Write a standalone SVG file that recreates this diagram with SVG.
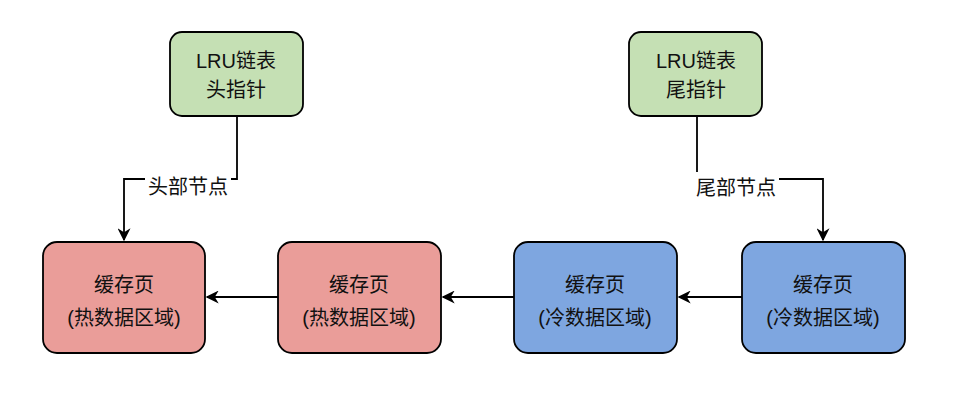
<svg xmlns="http://www.w3.org/2000/svg" width="955" height="400" viewBox="0 0 955 400">
<defs>
<style>
.box{stroke:#000;stroke-width:1.8}
.g{fill:#c5e0b4}
.p{fill:#ea9d99}
.b{fill:#7ea6e0}
text{font-family:"Liberation Sans","Noto Sans CJK SC",sans-serif;font-size:20px;fill:#111;text-anchor:middle;dominant-baseline:central}
.lbl{font-size:20px}
.c{fill:none;stroke:#000;stroke-width:1.8}
</style>
<marker id="ah" viewBox="0 0 10 10" refX="9" refY="5" markerWidth="13" markerHeight="13" markerUnits="userSpaceOnUse" orient="auto">
<path d="M0,0 L10,5 L0,10 L3,5 Z" fill="#000"/>
</marker>
</defs>
<rect width="955" height="400" fill="#fff"/>
<g id="connectors">
<path class="c" d="M237,116 V179 H124 V240" marker-end="url(#ah)"/>
<path class="c" d="M697,116 V179 H823 V240" marker-end="url(#ah)"/>
<path class="c" d="M278,297 H207" marker-end="url(#ah)"/>
<path class="c" d="M514,297 H443" marker-end="url(#ah)"/>
<path class="c" d="M742,297 H679" marker-end="url(#ah)"/>
<rect x="145" y="172" width="86" height="28" fill="#fff"/>
<text class="lbl" x="188" y="187">头部节点</text>
<rect x="693" y="172" width="86" height="28" fill="#fff"/>
<text class="lbl" x="736" y="188">尾部节点</text>
</g>
<g id="head">
<rect class="box g" x="170" y="32" width="133" height="84" rx="12"/>
<text x="236" y="61">LRU链表</text>
<text x="236" y="90">头指针</text>
</g>
<g id="tail">
<rect class="box g" x="629" y="32" width="133" height="84" rx="12"/>
<text x="696" y="61">LRU链表</text>
<text x="696" y="90">尾指针</text>
</g>
<g id="hot1">
<rect class="box p" x="43" y="242" width="162" height="111" rx="14"/>
<text x="124" y="285">缓存页</text>
<text x="124" y="318">(热数据区域)</text>
</g>
<g id="hot2">
<rect class="box p" x="278" y="242" width="163" height="111" rx="14"/>
<text x="359" y="285">缓存页</text>
<text x="359" y="318">(热数据区域)</text>
</g>
<g id="cold1">
<rect class="box b" x="514" y="242" width="163" height="111" rx="14"/>
<text x="595" y="285">缓存页</text>
<text x="595" y="318">(冷数据区域)</text>
</g>
<g id="cold2">
<rect class="box b" x="742" y="242" width="163" height="111" rx="14"/>
<text x="823" y="285">缓存页</text>
<text x="823" y="318">(冷数据区域)</text>
</g>
</svg>
